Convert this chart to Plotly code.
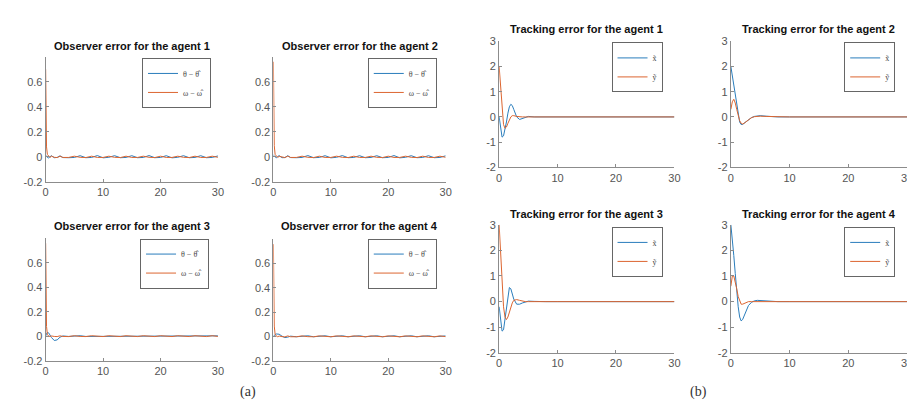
import plotly.graph_objects as go
from plotly.subplots import make_subplots

# ---------------- data ----------------
obs_t = [0, 0.05, 0.15, 0.3, 0.5, 0.75, 1, 1.5, 2, 2.5, 3,
         4, 5, 6, 7, 8, 9, 10, 11, 12, 13, 14, 15, 16, 17, 18, 19, 20,
         21, 22, 23, 24, 25, 26, 27, 28, 29, 30]

obs_theta_1 = [0.010, 0.012, 0.008, -0.004, -0.008, 0.002, 0.010, -0.006, -0.004, 0.009, -0.005,
               -0.006, -0.004, 0.010, -0.006, -0.004, 0.011, -0.007, -0.003, 0.010, -0.006, -0.004,
               0.010, -0.006, -0.004, 0.011, -0.006, -0.004, 0.010, -0.007, -0.003, 0.010, -0.006,
               -0.004, 0.010, -0.006, -0.004, 0.008]
obs_omega_1 = [0.700, 0.300, 0.080, 0.020, 0.005, -0.004, 0.006, -0.003, -0.005, 0.006, -0.004,
               -0.004, 0.006, -0.003, -0.005, 0.006, -0.004, -0.004, 0.006, -0.003, -0.005, 0.006,
               -0.004, -0.004, 0.006, -0.003, -0.005, 0.006, -0.004, -0.004, 0.006, -0.003, -0.005,
               0.006, -0.004, -0.004, 0.006, -0.003]

obs_theta_2 = [0.012, 0.014, 0.010, -0.002, -0.008, 0.003, 0.011, -0.006, -0.005, 0.010, -0.005,
               -0.006, -0.004, 0.011, -0.006, -0.004, 0.010, -0.007, -0.003, 0.011, -0.006, -0.004,
               0.010, -0.006, -0.004, 0.010, -0.006, -0.004, 0.011, -0.007, -0.003, 0.010, -0.006,
               -0.004, 0.010, -0.006, -0.004, 0.009]
obs_omega_2 = [0.760, 0.320, 0.090, 0.020, 0.004, -0.004, 0.005, -0.003, -0.005, 0.006, -0.004,
               -0.004, 0.006, -0.003, -0.005, 0.006, -0.004, -0.004, 0.006, -0.003, -0.005, 0.006,
               -0.004, -0.004, 0.006, -0.003, -0.005, 0.006, -0.004, -0.004, 0.006, -0.003, -0.005,
               0.006, -0.004, -0.004, 0.006, -0.003]

obs_theta_3 = [0.000, 0.010, 0.022, 0.030, 0.028, 0.010, -0.010, -0.035, -0.030, -0.008, 0.002,
               -0.002, 0.002, 0.004, -0.002, -0.002, 0.004, -0.002, -0.002, 0.004, -0.002, -0.002,
               0.004, -0.002, -0.002, 0.004, -0.002, -0.002, 0.004, -0.002, -0.002, 0.004, -0.002,
               -0.002, 0.004, -0.002, -0.002, 0.003]
obs_omega_3 = [0.760, 0.300, 0.080, 0.015, 0.002, -0.003, 0.002, -0.002, -0.003, 0.003, -0.002,
               -0.003, 0.004, -0.002, -0.003, 0.004, -0.002, -0.003, 0.004, -0.002, -0.003, 0.004,
               -0.002, -0.003, 0.004, -0.002, -0.003, 0.004, -0.002, -0.003, 0.004, -0.002, -0.003,
               0.004, -0.002, -0.003, 0.004, -0.002]

obs_theta_4 = [0.000, 0.004, 0.010, 0.016, 0.020, 0.022, 0.018, 0.002, -0.010, -0.006, 0.002,
               -0.003, 0.002, 0.005, -0.003, -0.002, 0.005, -0.003, -0.002, 0.005, -0.003, -0.002,
               0.005, -0.003, -0.002, 0.005, -0.003, -0.002, 0.005, -0.003, -0.002, 0.005, -0.003,
               -0.002, 0.005, -0.003, -0.002, 0.004]
obs_omega_4 = [0.760, 0.310, 0.085, 0.018, 0.003, -0.003, 0.003, -0.002, -0.004, 0.004, -0.003,
               -0.003, 0.004, -0.002, -0.003, 0.004, -0.002, -0.003, 0.004, -0.002, -0.003, 0.004,
               -0.002, -0.003, 0.004, -0.002, -0.003, 0.004, -0.002, -0.003, 0.004, -0.002, -0.003,
               0.004, -0.002, -0.003, 0.004, -0.002]

trk_t = [0, 0.25, 0.5, 0.75, 1, 1.25, 1.5, 1.75, 2, 2.25, 2.5, 3, 3.5, 4, 4.5, 5,
         6, 7, 8, 10, 15, 20, 25, 30]

trk_x_1 = [0.0, -0.5, -0.8, -0.75, -0.5, -0.2, 0.15, 0.4, 0.5, 0.45, 0.3, 0.0, -0.1, -0.05,
           0.0, 0.02, 0.0, 0.0, 0.0, 0.0, 0.0, 0.0, 0.0, 0.0]
trk_y_1 = [2.0, 1.2, 0.3, -0.3, -0.45, -0.4, -0.25, -0.1, 0.0, 0.05, 0.05, 0.02, 0.0, 0.0,
           0.0, 0.0, 0.0, 0.0, 0.0, 0.0, 0.0, 0.0, 0.0, 0.0]

trk_x_2 = [2.0, 1.6, 1.2, 0.8, 0.4, 0.0, -0.2, -0.3, -0.3, -0.25, -0.2, -0.1, -0.03, 0.02,
           0.05, 0.05, 0.03, 0.01, 0.0, 0.0, 0.0, 0.0, 0.0, 0.0]
trk_y_2 = [0.3, 0.6, 0.7, 0.55, 0.3, 0.05, -0.15, -0.25, -0.28, -0.25, -0.2, -0.1, -0.03, 0.01,
           0.03, 0.03, 0.02, 0.01, 0.0, 0.0, 0.0, 0.0, 0.0, 0.0]

trk_x_3 = [-0.2, -0.8, -1.15, -1.1, -0.7, -0.2, 0.3, 0.55, 0.5, 0.3, 0.1, -0.1, -0.1, -0.05,
           0.0, 0.02, 0.01, 0.0, 0.0, 0.0, 0.0, 0.0, 0.0, 0.0]
trk_y_3 = [3.0, 1.8, 0.6, -0.2, -0.6, -0.7, -0.6, -0.4, -0.2, -0.05, 0.05, 0.08, 0.05, 0.02,
           0.0, 0.0, 0.0, 0.0, 0.0, 0.0, 0.0, 0.0, 0.0, 0.0]

trk_x_4 = [3.0, 2.5, 1.8, 1.1, 0.4, -0.2, -0.6, -0.75, -0.7, -0.55, -0.4, -0.15, -0.03, 0.03,
           0.05, 0.04, 0.01, 0.0, 0.0, 0.0, 0.0, 0.0, 0.0, 0.0]
trk_y_4 = [0.6, 1.0, 1.0, 0.8, 0.5, 0.2, 0.0, -0.1, -0.1, -0.08, -0.05, 0.0, 0.0, 0.0,
           0.0, 0.0, 0.0, 0.0, 0.0, 0.0, 0.0, 0.0, 0.0, 0.0]

obs_titles = ["Observer error for the agent 1", "Observer error for the agent 2",
              "Observer error for the agent 3", "Observer error for the agent 4"]
trk_titles = ["Tracking error for the agent 1", "Tracking error for the agent 2",
              "Tracking error for the agent 3", "Tracking error for the agent 4"]
obs_names = ["θ − θ̂", "ω − ω̂"]
trk_names = ["x̃", "ỹ"]
x_ticks = [0, 10, 20, 30]
obs_yticks = [-0.2, 0, 0.2, 0.4, 0.6]
obs_ytext = ["-0.2", "0", "0.2", "0.4", "0.6"]
trk_yticks = [-2, -1, 0, 1, 2, 3]
panel_labels = ["(a)", "(b)"]

# ---------------- layout helpers ----------------
W, H = 915, 415
BLUE = "#2a7dbc"
ORANGE = "#dc6530"
AXC = "#8c8c8c"
TXT = "#555555"


def dx(px):
    return px / W


def dy(px):
    return 1 - px / H


# (left, right, top, bottom) in pixels for each panel
boxes = [
    (35, 209, 44, 173), (265, 439, 44, 173),
    (35, 209, 231, 357), (265, 439, 232, 357),
    (493, 670, 28, 158), (727, 905, 28, 158),
    (493, 670, 217, 349), (727, 905, 217, 349),
]
title_y = [33, 33, 218, 218, 15, 15, 206, 206]
# (right edge, vertical centre) of each legend box
legend_pos = [(202, 71), (430, 71), (200, 257), (430, 257),
              (658, 55), (893, 55), (658, 245), (893, 245)]

obs_series = [(obs_theta_1, obs_omega_1), (obs_theta_2, obs_omega_2),
              (obs_theta_3, obs_omega_3), (obs_theta_4, obs_omega_4)]
trk_series = [(trk_x_1, trk_y_1), (trk_x_2, trk_y_2),
              (trk_x_3, trk_y_3), (trk_x_4, trk_y_4)]

fig = make_subplots(rows=2, cols=4)
fig.layout.annotations = ()

for i in range(8):
    n = i + 1
    lname = "legend" if n == 1 else f"legend{n}"
    if i < 4:
        t = obs_t
        s1, s2 = obs_series[i]
        names = obs_names
        title = obs_titles[i]
    else:
        t = trk_t
        s1, s2 = trk_series[i - 4]
        names = trk_names
        title = trk_titles[i - 4]
    xa = "x" if n == 1 else f"x{n}"
    ya = "y" if n == 1 else f"y{n}"
    fig.add_trace(go.Scatter(x=t, y=s1, mode="lines", name=names[0],
                             line=dict(color=BLUE, width=1), xaxis=xa, yaxis=ya,
                             legend=lname))
    fig.add_trace(go.Scatter(x=t, y=s2, mode="lines", name=names[1],
                             line=dict(color=ORANGE, width=1), xaxis=xa, yaxis=ya,
                             legend=lname))

    l, r, tp, b = boxes[i]
    xkey = "xaxis" if n == 1 else f"xaxis{n}"
    ykey = "yaxis" if n == 1 else f"yaxis{n}"
    if i < 4:
        yrange = [-0.2, 0.8]
        ytv, ytt = obs_yticks, obs_ytext
    else:
        yrange = [-2, 3]
        ytv, ytt = trk_yticks, [str(v) for v in trk_yticks]
    fig.layout[xkey].update(
        domain=[dx(l), dx(r)], range=[0, 30], tickvals=x_ticks,
        showgrid=False, zeroline=False, showline=True, linecolor=AXC, linewidth=1,
        ticks="inside", ticklen=3, tickcolor=AXC, mirror=False,
        tickfont=dict(family="Arial, Liberation Sans", size=11, color=TXT),
        anchor=ya,
    )
    fig.layout[ykey].update(
        domain=[dy(b), dy(tp)], range=yrange, tickvals=ytv, ticktext=ytt,
        showgrid=False, zeroline=False, showline=True, linecolor=AXC, linewidth=1,
        ticks="inside", ticklen=3, tickcolor=AXC, mirror=False,
        tickfont=dict(family="Arial, Liberation Sans", size=11, color=TXT),
        anchor=xa,
    )
    fig.add_annotation(text=f"<b>{title}</b>", x=dx((l + r) / 2), y=dy(title_y[i]),
                       xref="paper", yref="paper", showarrow=False,
                       xanchor="center", yanchor="middle",
                       font=dict(family="Arial, Liberation Sans", size=11, color="#111111"))
    lx, ly = legend_pos[i]
    fig.layout[lname] = dict(
        x=dx(lx), y=dy(ly), xanchor="right", yanchor="middle",
        bgcolor="white", bordercolor="#666666", borderwidth=1,
        font=dict(family="Times New Roman, Liberation Serif", size=8, color="#444444"),
        itemwidth=30, tracegroupgap=0,
    )

fig.add_annotation(text=panel_labels[0], x=dx(229), y=dy(400), xref="paper", yref="paper",
                   showarrow=False, font=dict(family="Liberation Serif", size=14, color="#333333"))
fig.add_annotation(text=panel_labels[1], x=dx(705), y=dy(400), xref="paper", yref="paper",
                   showarrow=False, font=dict(family="Liberation Serif", size=14, color="#333333"))

fig.update_layout(
    width=W, height=H, margin=dict(l=0, r=0, t=0, b=0),
    paper_bgcolor="white", plot_bgcolor="white", showlegend=True,
)

fig.write_html("out.html")
